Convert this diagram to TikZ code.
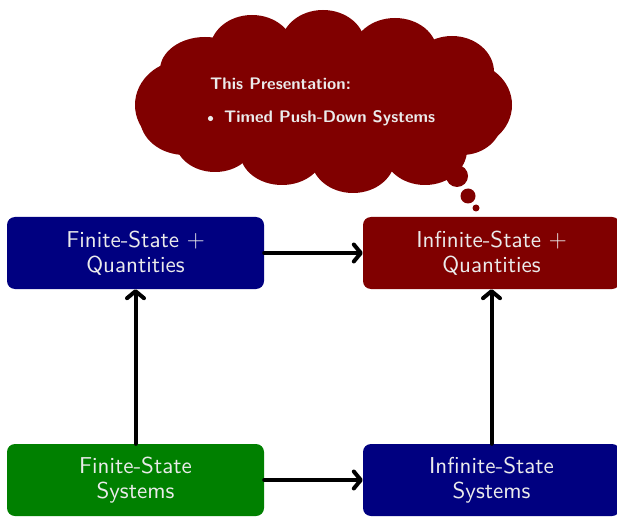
\documentclass[tikz,border=0pt]{standalone}
\usepackage{fontspec}
\setsansfont{lmsans10-regular.otf}[BoldFont=lmsans10-bold.otf]
\usetikzlibrary{arrows.meta}
\renewcommand{\familydefault}{\sfdefault}
\definecolor{boxnavy}{RGB}{0,0,128}
\definecolor{boxmaroon}{RGB}{128,0,0}
\definecolor{boxgreen}{RGB}{0,128,0}
\tikzset{
  statebox/.style={rounded corners=8pt, minimum width=257pt, minimum height=72pt,
    text=white!92!black, align=center, font=\fontsize{23}{24.5}\selectfont, inner sep=0pt},
  flow/.style={line width=4pt, line cap=round,
    -{Straight Barb[length=7pt, width=17pt, line cap=round, line join=round]}},
  bubble/.style={fill=boxmaroon, draw=none},
  cloudtext/.style={text=white!92!black, font=\fontsize{16.7}{20}\selectfont\bfseries,
    anchor=base west, inner sep=0pt},
}
\begin{document}
\begin{tikzpicture}[x=1pt,y=1pt]
\useasboundingbox (0,0) rectangle (617,517);
% the four classes of systems
\node[statebox, fill=boxnavy]   (fq) at (135.5,264) {Finite-State $+$\\Quantities};
\node[statebox, fill=boxmaroon] (iq) at (491.5,264) {Infinite-State $+$\\Quantities};
\node[statebox, fill=boxgreen]  (fs) at (135.5,37)  {Finite-State\\Systems};
\node[statebox, fill=boxnavy]   (is) at (491.5,37)  {Infinite-State\\Systems};
% extensions between them
\draw[flow] (fq) -- (iq);
\draw[flow] (fs) -- (is);
\draw[flow] (fs) -- (fq);
\draw[flow] (is) -- (iq);
% thought bubble: an oval body with flat puffs around it
\fill[bubble] (324,417) ellipse [x radius=150pt, y radius=60pt];
\foreach \cx/\cy/\rx/\ry in {
    185/412/50/45, 205/447/45/33, 252/467/42/35, 323/472/42/35,
    395/465/42/34, 452/445/42/36, 465/412/47/43, 462/397/40/35,
    425/367/42/35, 353/359/42/35, 282/365/42/33, 215/377/40/32,
    185/399/45/37}
  \fill[bubble] (\cx,\cy) ellipse [x radius=\rx pt, y radius=\ry pt];
\fill[bubble] (457,341) circle (11pt);
\fill[bubble] (468,321) circle (7.5pt);
\fill[bubble] (476,309) circle (3.5pt);
\node[cloudtext] (pt) at (210,427.5) {This Presentation:};
\fill[white!92!black] (210.5,398.5) circle (2.6pt);
\node[cloudtext] (it) at (224,394) {Timed Push-Down Systems};
\end{tikzpicture}
\end{document}
